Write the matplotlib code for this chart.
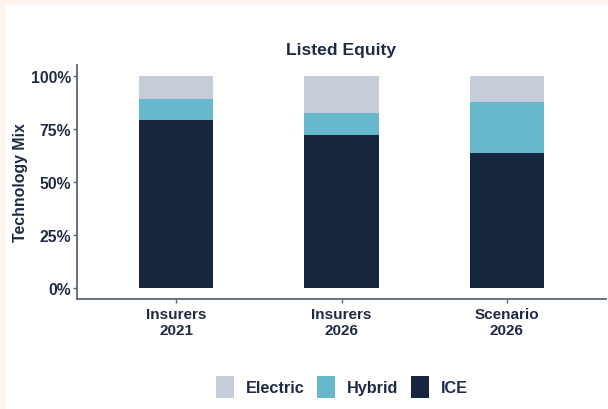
import matplotlib
matplotlib.use("Agg")
import matplotlib.pyplot as plt
from matplotlib.patches import Rectangle, Patch
import numpy as np

# Data
categories = ["Insurers\n2021", "Insurers\n2026", "Scenario\n2026"]
ice = [0.793, 0.720, 0.634]
hybrid = [0.095, 0.106, 0.241]
electric = [1 - i - h for i, h in zip(ice, hybrid)]

series_names = ["Electric", "Hybrid", "ICE"]
colors = {"Electric": "#c5ccda", "Hybrid": "#67b8cc", "ICE": "#17263f"}

TEXT = "#1f2a44"
AXIS = "#5c6679"

plt.rcParams["font.family"] = ["Liberation Sans", "DejaVu Sans"]
plt.rcParams["font.weight"] = "bold"

fig = plt.figure(figsize=(6.08, 4.10), dpi=100)
fig.patch.set_facecolor("#fdf4ee")
# white panel inside the cream border
fig.patches.append(Rectangle((6 / 608, 0), 1, 1 - 6 / 410, transform=fig.transFigure,
                             facecolor="white", edgecolor="none", zorder=-10))

ax = fig.add_axes([77 / 608, 1 - 300 / 410, (606 - 77) / 608, (300 - 66) / 410])
ax.set_facecolor("none")
ax.set_zorder(5)

x = np.arange(len(categories))
w = 0.45
ax.bar(x, ice, w, color=colors["ICE"], label="ICE")
ax.bar(x, hybrid, w, bottom=ice, color=colors["Hybrid"], label="Hybrid")
ax.bar(x, electric, w, bottom=np.array(ice) + np.array(hybrid),
       color=colors["Electric"], label="Electric")

ax.set_xlim(-0.6, 2.6)
ax.set_ylim(-0.05, 1.05)
ax.set_yticks([0, 0.25, 0.5, 0.75, 1.0])
ax.set_yticklabels(["0%", "25%", "50%", "75%", "100%"], fontsize=11.3,
                   fontweight="bold")
ax.set_xticks(x)
ax.set_xticklabels(categories, fontsize=11, fontweight="bold", linespacing=1.15)

for s in ["top", "right"]:
    ax.spines[s].set_visible(False)
for s in ["left", "bottom"]:
    ax.spines[s].set_color(AXIS)
    ax.spines[s].set_linewidth(1.3)
ax.tick_params(axis="both", color=AXIS, labelcolor=TEXT, length=3, width=1)
ax.tick_params(axis="y", pad=1.5)
ax.tick_params(axis="x", pad=3)

ax.set_ylabel("Technology Mix", fontsize=11.4, fontweight="bold", color=TEXT, labelpad=2)
ax.set_title("Listed Equity", fontsize=12.6, fontweight="bold", color=TEXT, pad=8)

handles = [Patch(facecolor=colors[n], edgecolor="none") for n in series_names]
fig.legend(handles, series_names, loc="center", bbox_to_anchor=(342 / 608, 1 - 388 / 410),
           ncol=3, frameon=False, fontsize=11.7, handlelength=1.1, handleheight=1.8,
           handletextpad=0.75, columnspacing=0.75, labelcolor=TEXT)

fig.savefig("out.png", dpi=100, facecolor=fig.get_facecolor())
